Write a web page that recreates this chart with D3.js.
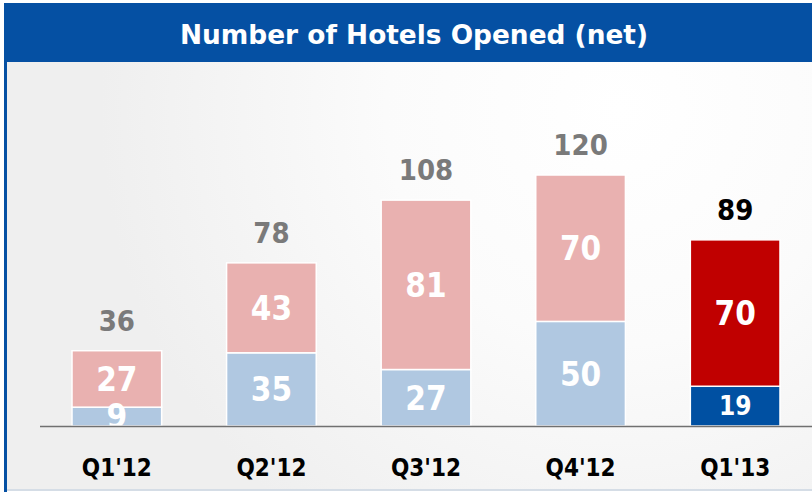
<!DOCTYPE html>
<html>
<head>
<meta charset="utf-8">
<script src="https://cdn.jsdelivr.net/npm/d3@7"></script>
<style>
  html, body { margin: 0; padding: 0; background: #ffffff; }
  svg { display: block; }
</style>
</head>
<body>
<svg id="chart" width="812" height="494"></svg>
<script>
const title = "Number of Hotels Opened (net)";
const categories = ["Q1'12", "Q2'12", "Q3'12", "Q4'12", "Q1'13"];
const bottomValues = [9, 35, 27, 50, 19];
const topValues = [27, 43, 81, 70, 70];
const totals = [36, 78, 108, 120, 89];
const yMax = 120;

const W = 812, H = 494;
const baseY = 426;
const font = "'DejaVu Sans Condensed', 'DejaVu Sans', sans-serif";

const svg = d3.select("#chart");
const defs = svg.append("defs");

const grad = defs.append("radialGradient").attr("id", "bg")
  .attr("gradientUnits", "userSpaceOnUse")
  .attr("cx", 620).attr("cy", 110).attr("r", 520);
grad.append("stop").attr("offset", "0%").attr("stop-color", "#ffffff");
grad.append("stop").attr("offset", "45%").attr("stop-color", "#fbfbfb");
grad.append("stop").attr("offset", "100%").attr("stop-color", "#efefef");

defs.append("clipPath").attr("id", "plotclip")
  .append("rect").attr("x", 0).attr("y", 0).attr("width", W).attr("height", baseY);

// panel background
svg.append("rect").attr("x", 7).attr("y", 62).attr("width", W - 7).attr("height", 428)
  .attr("fill", "url(#bg)");
// bottom border line
svg.append("rect").attr("x", 7).attr("y", 489).attr("width", W - 7).attr("height", 2)
  .attr("fill", "#d5dde6");
// left blue border
svg.append("rect").attr("x", 4).attr("y", 3).attr("width", 3).attr("height", 489)
  .attr("fill", "#0550a3");
// header bar
svg.append("rect").attr("x", 4).attr("y", 3).attr("width", W - 4).attr("height", 59)
  .attr("fill", "#0550a3");
svg.append("text").text(title)
  .attr("x", 414).attr("y", 44)
  .attr("text-anchor", "middle")
  .attr("font-family", font).attr("font-weight", "bold").attr("font-size", 27)
  .attr("fill", "#ffffff")
  .attr("textLength", 468).attr("lengthAdjust", "spacingAndGlyphs");

const x = d3.scaleBand().domain(categories).range([38, 814]).paddingInner(0.42).paddingOuter(0.22);
const y = d3.scaleLinear().domain([0, yMax]).range([baseY, 175]);

const isLast = i => i === categories.length - 1;
const colBottom = i => isLast(i) ? "#0050a2" : "#b0c8e1";
const colTop = i => isLast(i) ? "#c00000" : "#e9b1b0";

const plot = svg.append("g").attr("clip-path", "url(#plotclip)");

const data = categories.map((c, i) => ({
  c, i, b: bottomValues[i], t: topValues[i], total: totals[i]
}));

// bottom segments
plot.selectAll("rect.bottom").data(data).join("rect")
  .attr("class", "bottom")
  .attr("x", d => x(d.c)).attr("width", x.bandwidth())
  .attr("y", d => y(d.b)).attr("height", d => y(0) - y(d.b))
  .attr("fill", d => colBottom(d.i))
  .attr("stroke", "#ffffff").attr("stroke-width", 1.5);

// top segments
plot.selectAll("rect.top").data(data).join("rect")
  .attr("class", "top")
  .attr("x", d => x(d.c)).attr("width", x.bandwidth())
  .attr("y", d => y(d.b + d.t)).attr("height", d => y(d.b) - y(d.b + d.t))
  .attr("fill", d => colTop(d.i))
  .attr("stroke", "#ffffff").attr("stroke-width", 1.5);

function segSize(h) { return (h > 25 && h < 45) ? 26 : 33; }

// segment labels
plot.selectAll("text.blab").data(data).join("text")
  .attr("class", "blab")
  .text(d => d.b)
  .attr("x", d => x(d.c) + x.bandwidth() / 2)
  .attr("y", d => (y(0) + y(d.b)) / 2 + segSize(y(0) - y(d.b)) * 0.36)
  .attr("text-anchor", "middle")
  .attr("font-family", font).attr("font-weight", "bold")
  .attr("font-size", d => segSize(y(0) - y(d.b)))
  .attr("fill", "#ffffff");

plot.selectAll("text.tlab").data(data).join("text")
  .attr("class", "tlab")
  .text(d => d.t)
  .attr("x", d => x(d.c) + x.bandwidth() / 2)
  .attr("y", d => (y(d.b) + y(d.b + d.t)) / 2 + 33 * 0.36)
  .attr("text-anchor", "middle")
  .attr("font-family", font).attr("font-weight", "bold")
  .attr("font-size", 33)
  .attr("fill", "#ffffff");

// totals
svg.selectAll("text.total").data(data).join("text")
  .attr("class", "total")
  .text(d => d.total)
  .attr("x", d => x(d.c) + x.bandwidth() / 2)
  .attr("y", d => y(d.total) - 20)
  .attr("text-anchor", "middle")
  .attr("font-family", font).attr("font-weight", "bold")
  .attr("font-size", 29)
  .attr("fill", d => isLast(d.i) ? "#000000" : "#7a7a7a");

// baseline
svg.append("line")
  .attr("x1", 40).attr("x2", W).attr("y1", baseY + 0.5).attr("y2", baseY + 0.5)
  .attr("stroke", "#707070").attr("stroke-width", 1.5);

// category axis
const xAxis = d3.axisBottom(x).tickSize(0).tickPadding(0);
const ax = svg.append("g").attr("transform", `translate(0, ${baseY})`).call(xAxis);
ax.select(".domain").remove();
ax.selectAll("text")
  .attr("y", 50).attr("dy", 0)
  .attr("font-family", font).attr("font-weight", "bold").attr("font-size", 24)
  .attr("fill", "#000000");
</script>
</body>
</html>
